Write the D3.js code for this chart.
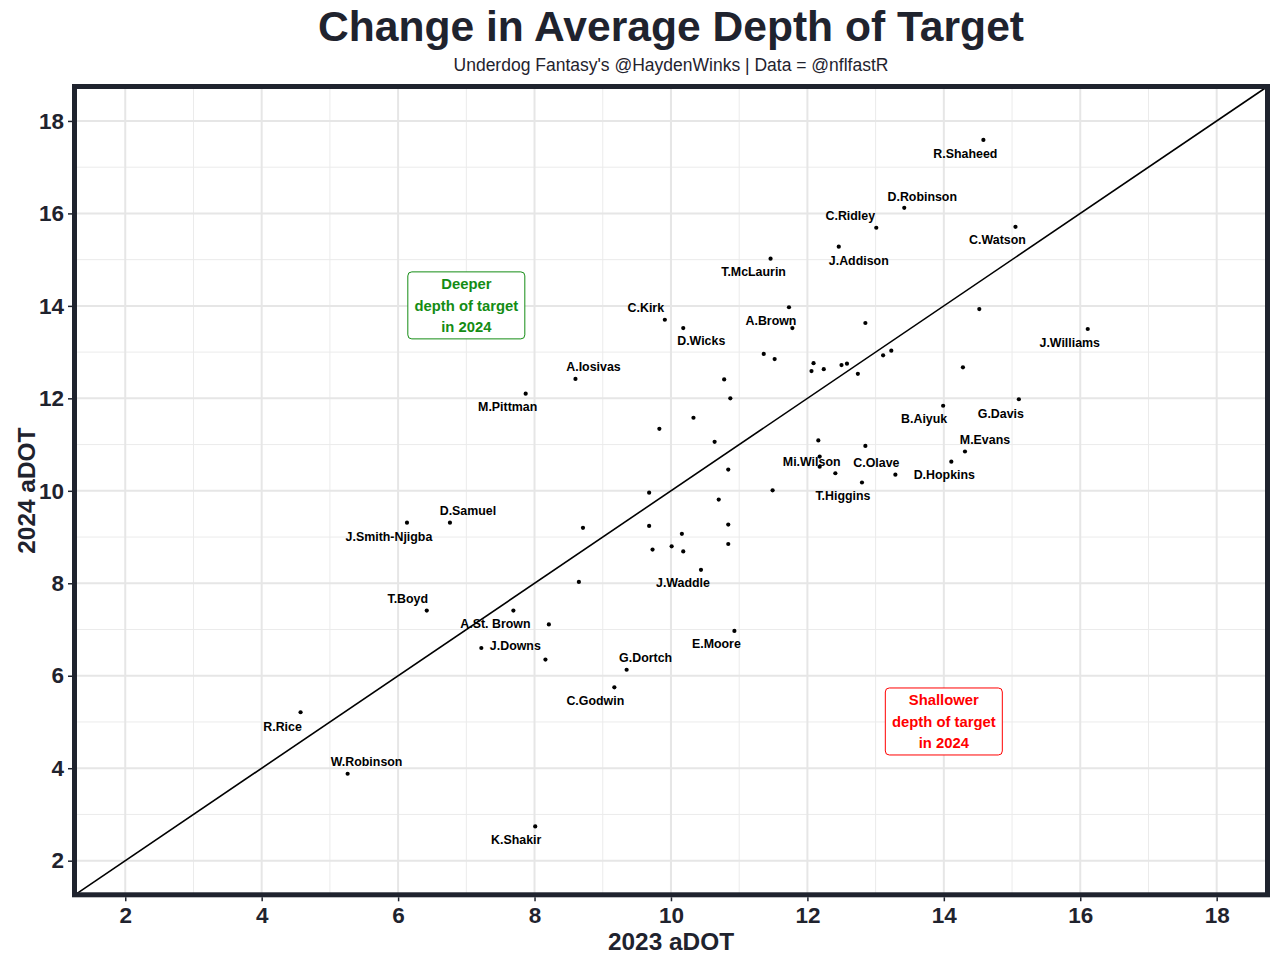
<!DOCTYPE html>
<html>
<head>
<meta charset="utf-8">
<script src="https://cdn.jsdelivr.net/npm/d3@7"></script>
<style>
  html, body { margin: 0; padding: 0; background: #ffffff; }
  svg { display: block; font-family: "Liberation Sans", Arial, Helvetica, sans-serif; }
</style>
</head>
<body>
<svg id="chart" width="1280" height="965"></svg>
<script>
// ---------------- DATA ----------------
const players = ["R.Shaheed","D.Robinson","C.Ridley","C.Watson","J.Addison","T.McLaurin","",
  "A.Brown","","C.Kirk","D.Wicks","","","","","","","","","","","","","","","","","","","","","",
  "Mi.Wilson","","","C.Olave","T.Higgins","","D.Hopkins","M.Evans","B.Aiyuk","G.Davis","J.Williams","",
  "J.Smith-Njigba","D.Samuel","","","","T.Boyd","A.St. Brown","","J.Downs","","G.Dortch","C.Godwin",
  "R.Rice","W.Robinson","K.Shakir","M.Pittman","A.Iosivas","","","","","","","J.Waddle","E.Moore"];
const adot2023 = [14.58,13.42,13.01,15.05,12.46,11.46,14.52,
  11.73,11.78,9.91,10.18,12.85,11.36,11.52,12.09,12.06,12.24,12.50,12.58,12.74,13.11,13.23,10.78,10.87,10.33,9.83,10.64,10.84,9.68,10.70,11.49,12.16,
  12.18,12.18,12.41,12.85,12.80,13.29,14.11,14.31,13.99,15.10,16.11,14.28,
  6.13,6.76,8.71,9.68,8.65,6.42,7.69,8.21,7.22,8.16,9.35,9.17,
  4.57,5.26,8.01,7.87,8.60,10.16,9.73,10.01,10.18,10.84,10.84,10.44,10.93];
const adot2024 = [17.59,16.12,15.69,15.71,15.28,15.02,13.93,
  13.97,13.52,13.70,13.52,13.63,12.96,12.85,12.76,12.59,12.63,12.72,12.75,12.53,12.93,13.03,12.41,12.00,11.58,11.34,11.06,10.46,9.96,9.81,10.01,11.09,
  10.74,10.52,10.38,10.97,10.18,10.35,10.63,10.85,11.84,11.98,13.50,12.67,
  9.31,9.31,9.20,9.24,8.03,7.41,7.41,7.11,6.60,6.35,6.13,5.75,
  5.21,3.88,2.74,12.10,12.42,9.07,8.73,8.80,8.69,9.27,8.85,8.29,6.97];
const xTicks = [2,4,6,8,10,12,14,16,18];
const yTicks = [2,4,6,8,10,12,14,16,18];
const titleText = "Change in Average Depth of Target";
const subtitleText = "Underdog Fantasy's @HaydenWinks | Data = @nflfastR";
const xLabel = "2023 aDOT";
const yLabel = "2024 aDOT";
const annoText = [["Deeper","depth of target","in 2024"],["Shallower","depth of target","in 2024"]];
const annoX = [7, 14];
const annoY = [14, 5];

// ---------------- LAYOUT (label nudges in px, not data) ----------------
const labelNudge = {
  "R.Shaheed":[-18,14],"D.Robinson":[18,-11],"C.Ridley":[-26,-12],"C.Watson":[-18,13],
  "J.Addison":[20,14],"T.McLaurin":[-17,13],"A.Brown":[-18,13],"C.Kirk":[-19,-12],
  "D.Wicks":[18,13],"A.Iosivas":[18,-12],"M.Pittman":[-18,13],"J.Williams":[-18,14],
  "B.Aiyuk":[-19,13],"G.Davis":[-18,14],"M.Evans":[20,-12],"D.Hopkins":[-7,13],
  "Mi.Wilson":[-8,5],"C.Olave":[11,17],"T.Higgins":[-19,13],"J.Waddle":[-18,13],
  "E.Moore":[-18,13],"G.Dortch":[19,-12],"C.Godwin":[-19,13],"J.Downs":[34,-2],
  "A.St. Brown":[-18,13],"T.Boyd":[-19,-12],"D.Samuel":[18,-12],"J.Smith-Njigba":[-18,14],
  "R.Rice":[-18,14],"W.Robinson":[19,-12],"K.Shakir":[-19,13]
};

const dark = "#1f232e";
const svg = d3.select("#chart");
const L = 74.5, R = 1267.5, T = 86.5, B = 894.8;
const x = d3.scaleLinear().domain([1.256, 18.745]).range([L, R]);
const y = d3.scaleLinear().domain([1.262, 18.745]).range([B, T]);

// grid
const g = svg.append("g");
const minor = d3.range(3, 19, 2);
g.selectAll(".vminor").data(minor).enter().append("line")
  .attr("x1", d => x(d)).attr("x2", d => x(d)).attr("y1", T).attr("y2", B)
  .attr("stroke", "#ebebeb").attr("stroke-width", 1);
g.selectAll(".hminor").data(minor).enter().append("line")
  .attr("y1", d => y(d)).attr("y2", d => y(d)).attr("x1", L).attr("x2", R)
  .attr("stroke", "#ebebeb").attr("stroke-width", 1);
g.selectAll(".vmajor").data(xTicks).enter().append("line")
  .attr("x1", d => x(d)).attr("x2", d => x(d)).attr("y1", T).attr("y2", B)
  .attr("stroke", "#e6e6e6").attr("stroke-width", 2);
g.selectAll(".hmajor").data(yTicks).enter().append("line")
  .attr("y1", d => y(d)).attr("y2", d => y(d)).attr("x1", L).attr("x2", R)
  .attr("stroke", "#e6e6e6").attr("stroke-width", 2);

// diagonal y = x
const dom = [1.262, 18.745];
svg.append("line")
  .attr("x1", x(dom[0])).attr("y1", y(dom[0]))
  .attr("x2", x(dom[1])).attr("y2", y(dom[1]))
  .attr("stroke", "#000").attr("stroke-width", 1.6);

// annotations
annoText.forEach((lines, i) => {
  const cx = x(annoX[i]), cy = y(annoY[i]);
  const col = i === 0 ? "#148c14" : "#ff0000";
  svg.append("rect").attr("x", cx - 58.5).attr("y", cy - 34).attr("width", 117).attr("height", 67)
    .attr("rx", 4).attr("fill", "#fff").attr("stroke", col).attr("stroke-width", 1);
  lines.forEach((t, j) => {
    svg.append("text").attr("x", cx).attr("y", cy + (j - 1) * 21.5 + 5)
      .attr("text-anchor", "middle").attr("font-size", 14.8).attr("font-weight", "bold")
      .attr("fill", col).text(t);
  });
});

// points
const pts = players.map((p, i) => ({ name: p, a: adot2023[i], b: adot2024[i] }));
svg.selectAll(".pt").data(pts).enter().append("circle")
  .attr("cx", d => x(d.a)).attr("cy", d => y(d.b)).attr("r", 2.1).attr("fill", "#000");

// labels
svg.selectAll(".lbl").data(pts.filter(d => d.name)).enter().append("text")
  .attr("x", d => x(d.a) + (labelNudge[d.name] || [0, -10])[0])
  .attr("y", d => y(d.b) + (labelNudge[d.name] || [0, -10])[1] + 4.3)
  .attr("text-anchor", "middle").attr("font-size", 12.4).attr("font-weight", "bold")
  .attr("fill", "#000").text(d => d.name);

// border
svg.append("rect").attr("x", L).attr("y", T).attr("width", R - L).attr("height", B - T)
  .attr("fill", "none").attr("stroke", dark).attr("stroke-width", 5);

// axes
const xAxis = svg.append("g").attr("transform", `translate(0,${B + 2.5})`)
  .call(d3.axisBottom(x).tickValues(xTicks).tickSize(4).tickPadding(5).tickFormat(d3.format("d")));
const yAxis = svg.append("g").attr("transform", `translate(${L - 2.5},0)`)
  .call(d3.axisLeft(y).tickValues(yTicks).tickSize(4).tickPadding(4).tickFormat(d3.format("d")));
[xAxis, yAxis].forEach(a => {
  a.select(".domain").remove();
  a.selectAll(".tick line").attr("stroke", dark).attr("stroke-width", 1.5);
  a.selectAll(".tick text").attr("fill", dark).attr("font-size", 22.5).attr("font-weight", "bold")
    .attr("font-family", "'Liberation Sans', Arial, sans-serif");
});
xAxis.selectAll(".tick text").attr("dy", "0.75em");

// titles
svg.append("text").attr("x", (L + R) / 2).attr("y", 41).attr("text-anchor", "middle")
  .attr("font-size", 42.6).attr("font-weight", "bold").attr("fill", dark).text(titleText);
svg.append("text").attr("x", (L + R) / 2).attr("y", 71).attr("text-anchor", "middle")
  .attr("font-size", 17.5).attr("fill", dark).text(subtitleText);
svg.append("text").attr("x", (L + R) / 2).attr("y", 950).attr("text-anchor", "middle")
  .attr("font-size", 24.4).attr("font-weight", "bold").attr("fill", dark).text(xLabel);
svg.append("text").attr("transform", `translate(35,${(T + B) / 2}) rotate(-90)`).attr("text-anchor", "middle")
  .attr("font-size", 24.4).attr("font-weight", "bold").attr("fill", dark).text(yLabel);
</script>
</body>
</html>
